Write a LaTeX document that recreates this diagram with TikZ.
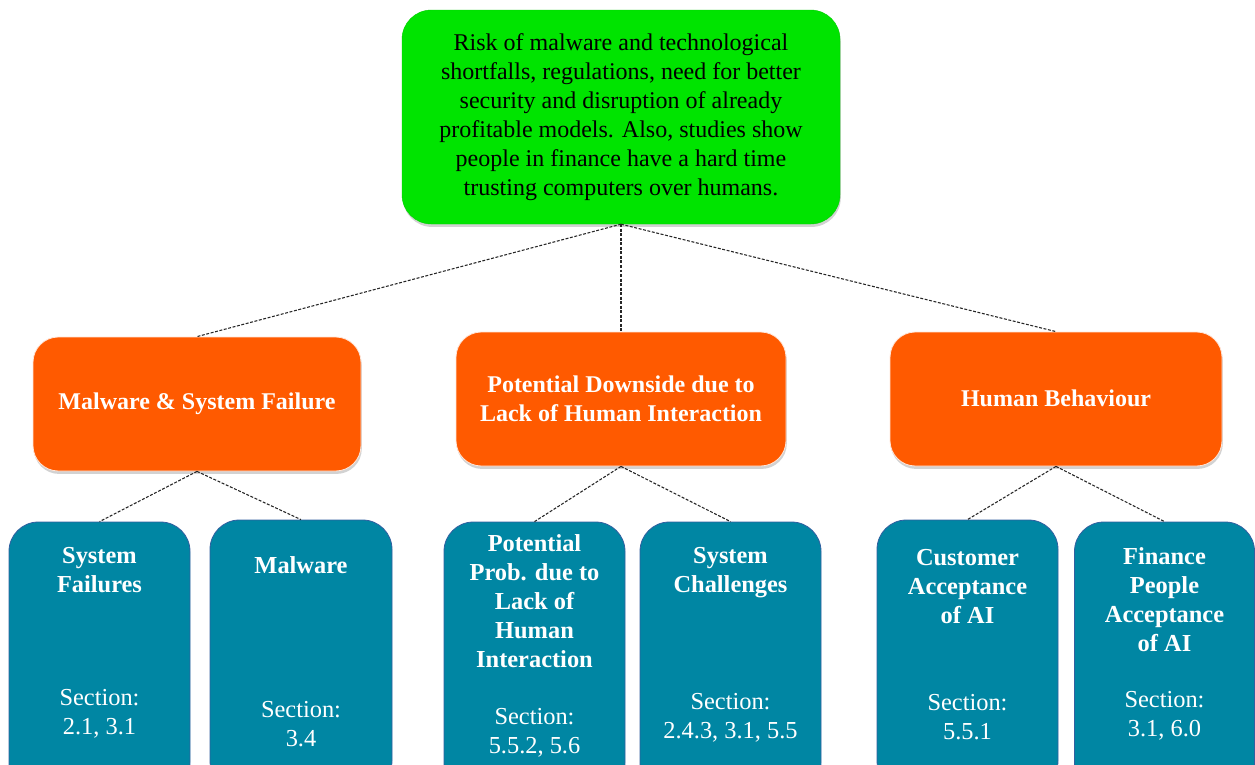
\documentclass[tikz,border=0pt]{standalone}
\usepackage{fontspec}
\setmainfont{Liberation Serif}
\usetikzlibrary{shadows}
\definecolor{topgreen}{RGB}{0,228,0}
\definecolor{midorange}{RGB}{255,90,0}
\definecolor{leafteal}{RGB}{0,134,163}
\definecolor{leafedge}{RGB}{50,95,160}
\tikzset{
  px/.style={x=0.75pt,y=-0.75pt},
  shadowed/.style={drop shadow={opacity=0.35,shadow xshift=0.6pt,shadow yshift=-2.2pt}},
  topbox/.style={shadowed,fill=topgreen,draw=topgreen!90!black,line width=0.3pt,rounded corners=22pt,inner sep=0pt},
  midbox/.style={shadowed,fill=midorange,draw=white!85!midorange,line width=0.6pt,rounded corners=19pt,inner sep=0pt},
  leafbox/.style={fill=leafteal,draw=leafedge,line width=0.6pt,rounded corners=22pt,inner sep=0pt},
  toptext/.style={inner sep=0pt,align=center,font=\fontsize{18}{21.75}\selectfont,text=black},
  midtext/.style={inner sep=0pt,align=center,font=\fontsize{18}{21.75}\selectfont\bfseries,text=white},
  leaftitle/.style={inner sep=0pt,align=center,font=\fontsize{18.3}{21.75}\selectfont\bfseries,text=white},
  leafsec/.style={inner sep=0pt,align=center,font=\fontsize{18.3}{21.75}\selectfont,text=white},
  link/.style={dash pattern=on 2.2pt off 1.2pt,line width=0.8pt,black!85}
}
\begin{document}
\begin{tikzpicture}[px]
\useasboundingbox (0,0) rectangle (1255,764);
\clip (0,0) rectangle (1255,764);
\fill[white] (0,0) rectangle (1255,764);
% boxes
\node[topbox,minimum width=438*0.75pt,minimum height=214*0.75pt] (top) at (621,117) {};
\node[midbox,minimum width=328*0.75pt,minimum height=134*0.75pt] (o1) at (197,404) {};
\node[midbox,minimum width=330*0.75pt,minimum height=134*0.75pt] (o2) at (621,399) {};
\node[midbox,minimum width=332*0.75pt,minimum height=134*0.75pt] (o3) at (1056,399) {};
\node[leafbox,minimum width=181*0.75pt,minimum height=270*0.75pt] (t1) at (99.5,657) {};
\node[leafbox,minimum width=182*0.75pt,minimum height=270*0.75pt] (t2) at (301,655) {};
\node[leafbox,minimum width=181*0.75pt,minimum height=270*0.75pt] (t3) at (534.5,657) {};
\node[leafbox,minimum width=181*0.75pt,minimum height=270*0.75pt] (t4) at (730.5,657) {};
\node[leafbox,minimum width=181*0.75pt,minimum height=270*0.75pt] (t5) at (967.5,655) {};
\node[leafbox,minimum width=180*0.75pt,minimum height=270*0.75pt] (t6) at (1164.5,657) {};
% connectors
\draw[link] (top.south) -- (o1.north);
\draw[link] (top.south) -- (o2.north);
\draw[link] (top.south) -- (o3.north);
\draw[link] (o1.south) -- (t1.north);
\draw[link] (o1.south) -- (t2.north);
\draw[link] (o2.south) -- (t3.north);
\draw[link] (o2.south) -- (t4.north);
\draw[link] (o3.south) -- (t5.north);
\draw[link] (o3.south) -- (t6.north);
% texts
\node[toptext] (toptx) at (621,117.5) {Risk of malware and technological\\shortfalls, regulations, need for better\\security and disruption of already\\profitable models. Also, studies show\\people in finance have a hard time\\trusting computers over humans.};
\node[midtext] (o1tx) at (197,404) {Malware \& System Failure};
\node[midtext] (o2tx) at (621,398.5) {Potential Downside due to\\Lack of Human Interaction};
\node[midtext] (o3tx) at (1056,398) {Human Behaviour};
\node[leaftitle] (t1tx) at (99.5,570.5) {System\\Failures};
\node[leafsec] (t1sc) at (99.5,713.5) {Section:\\2.1, 3.1};
\node[leaftitle] (t2tx) at (301,565) {Malware};
\node[leafsec] (t2sc) at (301,724.5) {Section:\\3.4};
\node[leaftitle] (t3tx) at (534.5,601.5) {Potential\\Prob. due to\\Lack of\\Human\\Interaction};
\node[leafsec] (t3sc) at (534.5,733) {Section:\\5.5.2, 5.6};
\node[leaftitle] (t4tx) at (730.5,572.5) {System\\Challenges};
\node[leafsec] (t4sc) at (730.5,717.5) {Section:\\2.4.3, 3.1, 5.5};
\node[leaftitle] (t5tx) at (967.5,586.5) {Customer\\Acceptance\\of AI};
\node[leafsec] (t5sc) at (967.5,717.5) {Section:\\5.5.1};
\node[leaftitle] (t6tx) at (1164.5,599.5) {Finance\\People\\Acceptance\\of AI};
\node[leafsec] (t6sc) at (1164.5,715.5) {Section:\\3.1, 6.0};
\end{tikzpicture}
\end{document}
